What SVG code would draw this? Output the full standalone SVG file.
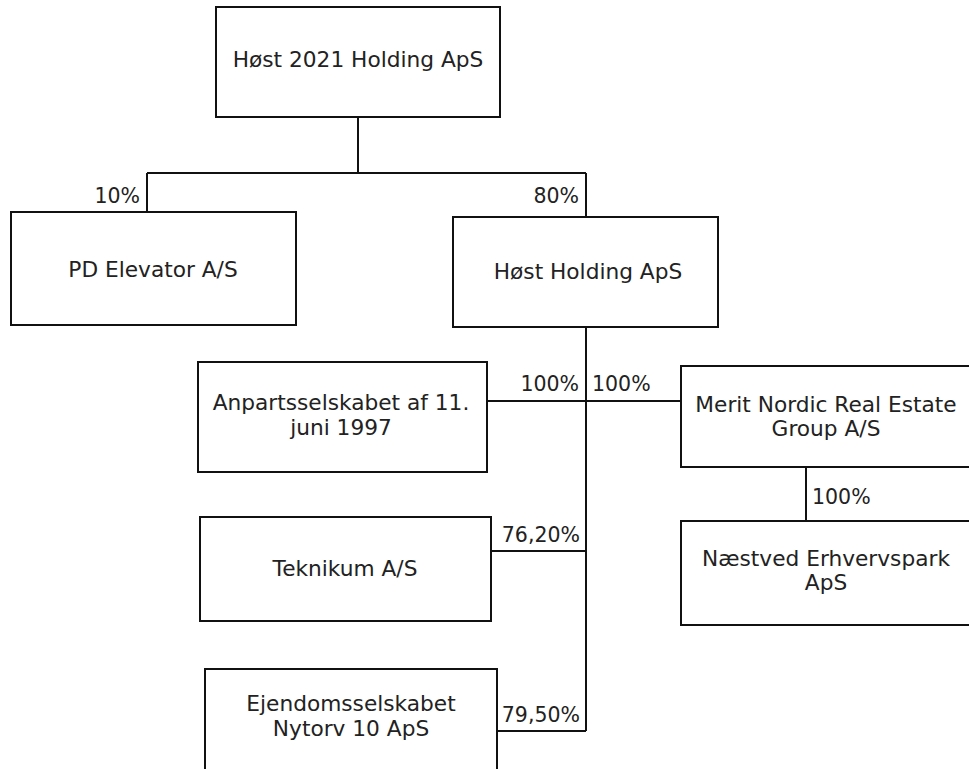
<svg xmlns="http://www.w3.org/2000/svg" width="969" height="769" viewBox="0 0 969 769">
<style>
.box{fill:#fff;stroke:#111;stroke-width:2}
.t{font-family:"DejaVu Sans",Verdana,sans-serif;font-size:21.7px;fill:#222;text-anchor:middle}
.p{font-family:"DejaVu Sans",Verdana,sans-serif;font-size:20.5px;fill:#222}
.c{fill:none;stroke:#111;stroke-width:2}
</style>
<rect width="969" height="769" fill="#fff"/>
<g id="connectors">
<path class="c" d="M358 117 V173 M147 173 H586 M147 173 V212 M586 173 V217"/>
<path class="c" d="M586 327 V731 M487 401 H681 M491 551 H586 M497 731 H586 M806 467 V521"/>
</g>
<g id="labels">
<text class="p" x="140" y="203" text-anchor="end">10%</text>
<text class="p" x="579" y="203" text-anchor="end">80%</text>
<text class="p" x="579" y="391" text-anchor="end">100%</text>
<text class="p" x="592" y="391">100%</text>
<text class="p" x="580" y="542" text-anchor="end">76,20%</text>
<text class="p" x="580" y="722" text-anchor="end">79,50%</text>
<text class="p" x="812" y="504">100%</text>
</g>
<g id="n-host2021">
<rect class="box" x="216" y="7" width="284" height="110"/>
<text class="t" x="358" y="67">Høst 2021 Holding ApS</text>
</g>
<g id="n-pd">
<rect class="box" x="11" y="212" width="285" height="113"/>
<text class="t" x="153" y="277">PD Elevator A/S</text>
</g>
<g id="n-hostholding">
<rect class="box" x="453" y="217" width="265" height="110"/>
<text class="t" x="588" y="279">Høst Holding ApS</text>
</g>
<g id="n-anparts">
<rect class="box" x="198" y="362" width="289" height="110"/>
<text class="t" x="341" y="410">Anpartsselskabet af 11.</text>
<text class="t" x="341" y="435">juni 1997</text>
</g>
<g id="n-merit">
<rect class="box" x="681" y="366" width="292" height="101"/>
<text class="t" x="826" y="412">Merit Nordic Real Estate</text>
<text class="t" x="826" y="436">Group A/S</text>
</g>
<g id="n-teknikum">
<rect class="box" x="200" y="517" width="291" height="104"/>
<text class="t" x="345" y="576">Teknikum A/S</text>
</g>
<g id="n-naestved">
<rect class="box" x="681" y="521" width="292" height="104"/>
<text class="t" x="826" y="566">Næstved Erhvervspark</text>
<text class="t" x="826" y="590">ApS</text>
</g>
<g id="n-ejendom">
<rect class="box" x="205" y="669" width="292" height="110"/>
<text class="t" x="351" y="711">Ejendomsselskabet</text>
<text class="t" x="351" y="736">Nytorv 10 ApS</text>
</g>
</svg>
